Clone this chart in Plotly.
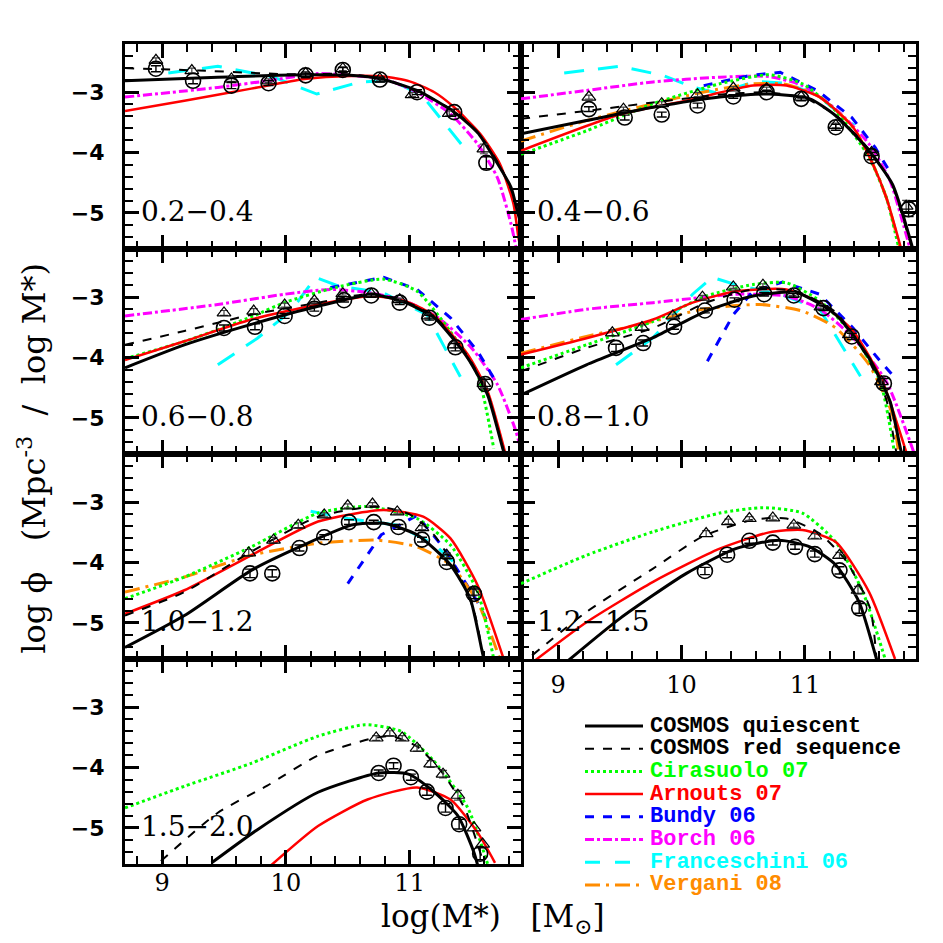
import plotly.graph_objects as go

# ---------------- data ----------------
# 0.2 < z < 0.4
z1_pts_x = [8.95, 9.25, 9.56, 9.86, 10.16, 10.46, 10.76, 11.06, 11.36, 11.62]
z1_pts_y = [-2.61, -2.81, -2.89, -2.85, -2.72, -2.63, -2.79, -3.00, -3.33, -4.17]
z1_pts_e = [0.05, 0.05, 0.05, 0.04, 0.04, 0.04, 0.04, 0.04, 0.05, 0.10]
z1_rs_x = [8.95, 9.24, 9.56, 9.86, 10.16, 10.46, 10.76, 11.02, 11.32, 11.60]
z1_rs_y = [-2.47, -2.64, -2.78, -2.81, -2.69, -2.61, -2.78, -3.04, -3.35, -3.94]
z1_quies_x = [8.7, 9.45, 10.15, 10.52, 10.77, 11.06, 11.36, 11.55, 11.68, 11.82, 11.87, 11.93]
z1_quies_y = [-2.81, -2.75, -2.71, -2.72, -2.78, -2.97, -3.33, -3.67, -4.08, -4.58, -4.97, -5.4]
z1_red_x = [8.7, 9.3, 10.0, 10.5, 10.8, 11.1, 11.4, 11.6, 11.75, 11.9]
z1_red_y = [-2.6, -2.64, -2.7, -2.7, -2.79, -3.02, -3.37, -3.8, -4.3, -5.0]
z1_arn_x = [8.7, 9.18, 9.72, 10.15, 10.53, 10.79, 11.0, 11.2, 11.36, 11.57, 11.73, 11.84, 11.88, 11.92]
z1_arn_y = [-3.31, -3.14, -2.94, -2.78, -2.73, -2.74, -2.82, -3.0, -3.25, -3.69, -4.19, -4.86, -5.42, -5.8]
z1_bor_x = [8.7, 9.45, 9.85, 10.26, 10.52, 10.79, 11.06, 11.33, 11.55, 11.71, 11.82, 11.86]
z1_bor_y = [-3.08, -2.92, -2.81, -2.69, -2.72, -2.78, -3.0, -3.36, -3.86, -4.42, -5.19, -5.58]
z1_fra_x = [9.05, 9.45, 9.9, 10.25, 10.6, 10.85, 11.1, 11.46]
z1_fra_y = [-2.68, -2.57, -2.75, -3.03, -2.83, -2.8, -3.05, -3.97]

# 0.4 < z < 0.6
z2_pts_x = [9.25, 9.54, 9.84, 10.13, 10.42, 10.69, 10.97, 11.25, 11.54, 11.84]
z2_pts_y = [-3.28, -3.42, -3.37, -3.22, -3.07, -3.00, -3.11, -3.58, -4.06, -4.94]
z2_pts_e = [0.04, 0.04, 0.04, 0.04, 0.03, 0.03, 0.03, 0.05, 0.06, 0.12]
z2_rs_x = [9.25, 9.53, 9.84, 10.13, 10.42, 10.69, 10.97, 11.25, 11.54, 11.82]
z2_rs_y = [-3.08, -3.28, -3.19, -3.04, -2.93, -2.94, -3.08, -3.55, -4.00, -4.89]
z2_quies_x = [8.7, 9.23, 9.77, 10.31, 10.71, 11.04, 11.25, 11.52, 11.71, 11.85, 11.9]
z2_quies_y = [-3.69, -3.47, -3.25, -3.08, -3.03, -3.11, -3.39, -3.97, -4.53, -5.42, -5.8]
z2_red_x = [8.7, 9.23, 9.77, 10.31, 10.69, 11.0, 11.25, 11.52, 11.7, 11.84, 11.9]
z2_red_y = [-3.44, -3.31, -3.17, -3.04, -3.0, -3.1, -3.38, -3.95, -4.5, -5.4, -5.8]
z2_ver_x = [8.7, 9.23, 9.77, 10.17, 10.58, 10.85, 11.12, 11.39, 11.55, 11.66, 11.77]
z2_ver_y = [-3.81, -3.47, -3.19, -3.0, -2.86, -2.87, -3.08, -3.58, -4.19, -4.75, -5.58]
z2_arn_x = [8.7, 9.5, 10.04, 10.58, 10.85, 11.12, 11.39, 11.55, 11.66, 11.78]
z2_arn_y = [-3.97, -3.37, -3.14, -2.89, -2.89, -3.08, -3.58, -4.19, -4.75, -5.6]
z2_cir_x = [8.7, 9.23, 9.77, 10.31, 10.71, 10.98, 11.25, 11.52, 11.66, 11.76]
z2_cir_y = [-4.03, -3.64, -3.19, -2.86, -2.71, -2.86, -3.31, -4.08, -4.75, -5.58]
z2_bun_x = [10.18, 10.56, 10.8, 11.1, 11.38, 11.57, 11.7]
z2_bun_y = [-2.89, -2.72, -2.67, -2.97, -3.42, -3.92, -4.36]
z2_bor_x = [8.7, 9.23, 9.77, 10.31, 10.71, 10.98, 11.25, 11.52, 11.69, 11.79, 11.85]
z2_bor_y = [-3.11, -2.97, -2.83, -2.75, -2.74, -2.89, -3.28, -3.86, -4.47, -5.14, -5.58]
z2_fra_x = [9.05, 9.5, 9.85, 10.1, 10.3, 10.6, 10.85, 11.1, 11.4]
z2_fra_y = [-2.68, -2.57, -2.72, -2.92, -3.02, -2.82, -2.85, -3.05, -3.55]

# 0.6 < z < 0.8
z3_pts_x = [9.5, 9.75, 9.99, 10.23, 10.47, 10.69, 10.92, 11.16, 11.37, 11.61]
z3_pts_y = [-3.51, -3.49, -3.31, -3.19, -3.05, -2.97, -3.09, -3.34, -3.83, -4.44]
z3_pts_e = [0.05, 0.05, 0.04, 0.04, 0.03, 0.03, 0.03, 0.04, 0.06, 0.08]
z3_rs_x = [9.5, 9.74, 9.99, 10.23, 10.46, 10.69, 10.92, 11.15, 11.36, 11.6]
z3_rs_y = [-3.26, -3.23, -3.13, -3.06, -2.94, -2.95, -3.04, -3.31, -3.79, -4.43]
z3_quies_x = [8.7, 9.18, 9.72, 10.26, 10.69, 10.93, 11.2, 11.47, 11.63, 11.76, 11.8]
z3_quies_y = [-4.17, -3.79, -3.45, -3.15, -2.96, -3.06, -3.34, -4.01, -4.62, -5.56, -5.8]
z3_red_x = [8.7, 9.18, 9.72, 10.26, 10.69, 10.93, 11.2, 11.47, 11.63, 11.76]
z3_red_y = [-3.79, -3.56, -3.29, -3.09, -2.94, -3.04, -3.32, -3.98, -4.6, -5.56]
z3_arn_x = [8.7, 9.18, 9.72, 10.26, 10.69, 10.96, 11.2, 11.47, 11.63, 11.77, 11.8]
z3_arn_y = [-4.04, -3.73, -3.37, -3.12, -2.98, -3.06, -3.31, -3.95, -4.56, -5.56, -5.8]
z3_cir_x = [8.7, 9.2, 9.5, 9.75, 10.0, 10.4, 10.79, 11.06, 11.33, 11.55, 11.68]
z3_cir_y = [-4.02, -3.72, -3.5, -3.3, -3.08, -2.84, -2.7, -2.9, -3.57, -4.29, -5.51]
z3_bun_x = [10.36, 10.79, 11.06, 11.33, 11.55, 11.68]
z3_bun_y = [-2.84, -2.67, -2.87, -3.34, -3.9, -4.34]
z3_bor_x = [8.7, 9.45, 9.99, 10.36, 10.69, 10.96, 11.23, 11.5, 11.71, 11.86, 11.92]
z3_bor_y = [-3.31, -3.12, -2.95, -2.87, -2.93, -3.06, -3.34, -3.84, -4.45, -5.23, -5.7]
z3_fra_x = [9.45, 9.77, 10.04, 10.24, 10.42, 10.79, 11.14, 11.41]
z3_fra_y = [-4.12, -3.68, -3.23, -2.67, -2.81, -2.93, -3.29, -4.32]

# 0.8 < z < 1.0
z4_pts_x = [9.47, 9.69, 9.94, 10.19, 10.43, 10.67, 10.91, 11.15, 11.38, 11.64]
z4_pts_y = [-3.84, -3.76, -3.49, -3.22, -3.04, -2.95, -2.97, -3.18, -3.65, -4.43]
z4_pts_e = [0.06, 0.05, 0.04, 0.04, 0.03, 0.03, 0.03, 0.04, 0.05, 0.08]
z4_rs_x = [9.44, 9.68, 9.93, 10.17, 10.42, 10.66, 10.9, 11.13, 11.36, 11.62]
z4_rs_y = [-3.59, -3.5, -3.31, -3.0, -2.83, -2.8, -2.95, -3.16, -3.62, -4.4]
z4_quies_x = [8.7, 9.23, 9.77, 10.2, 10.58, 10.93, 11.25, 11.52, 11.69, 11.78, 11.82]
z4_quies_y = [-4.62, -4.12, -3.67, -3.23, -2.98, -2.92, -3.29, -4.01, -4.73, -5.56, -5.8]
z4_red_x = [8.7, 9.23, 9.77, 10.2, 10.58, 10.93, 11.25, 11.5, 11.66, 11.74, 11.78]
z4_red_y = [-4.23, -3.84, -3.51, -3.09, -2.87, -2.9, -3.25, -3.98, -4.7, -5.56, -5.8]
z4_arn_x = [8.7, 9.23, 9.77, 10.09, 10.44, 10.85, 11.12, 11.39, 11.63, 11.82, 11.86]
z4_arn_y = [-3.95, -3.68, -3.37, -3.09, -2.9, -2.87, -3.09, -3.56, -4.4, -5.56, -5.8]
z4_ver_x = [8.7, 9.23, 9.77, 10.17, 10.63, 10.98, 11.25, 11.52, 11.71, 11.76, 11.8]
z4_ver_y = [-3.93, -3.65, -3.4, -3.2, -3.12, -3.23, -3.51, -4.12, -4.95, -5.56, -5.8]
z4_cir_x = [8.7, 9.23, 9.77, 10.2, 10.58, 10.85, 11.12, 11.39, 11.61, 11.72]
z4_cir_y = [-4.17, -3.79, -3.4, -2.98, -2.79, -2.76, -3.06, -3.62, -4.4, -5.51]
z4_bun_x = [10.21, 10.42, 10.58, 10.82, 11.12, 11.39, 11.61, 11.71]
z4_bun_y = [-4.06, -3.29, -2.9, -2.75, -2.95, -3.51, -4.06, -4.29]
z4_bor_x = [8.7, 9.23, 9.77, 10.09, 10.44, 10.85, 11.12, 11.39, 11.66, 11.88]
z4_bor_y = [-3.37, -3.2, -3.09, -3.02, -2.95, -2.98, -3.2, -3.67, -4.4, -5.56]
z4_fra_x = [9.47, 9.77, 10.09, 10.25, 10.47, 10.8, 11.12, 11.45]
z4_fra_y = [-4.12, -3.67, -2.95, -2.67, -2.81, -2.95, -3.2, -4.31]

# 1.0 < z < 1.2
z5_pts_x = [9.71, 9.89, 10.11, 10.31, 10.51, 10.71, 10.91, 11.1, 11.3, 11.52]
z5_pts_y = [-4.18, -4.18, -3.76, -3.58, -3.33, -3.33, -3.41, -3.62, -3.99, -4.52]
z5_pts_e = [0.07, 0.06, 0.05, 0.04, 0.04, 0.03, 0.04, 0.04, 0.05, 0.08]
z5_rs_x = [9.7, 9.9, 10.1, 10.31, 10.5, 10.7, 10.9, 11.1, 11.3, 11.51]
z5_rs_y = [-3.84, -3.63, -3.38, -3.21, -3.06, -3.03, -3.16, -3.42, -3.88, -4.49]
z5_quies_x = [8.7, 9.18, 9.72, 10.11, 10.53, 10.79, 11.06, 11.33, 11.49, 11.6, 11.65]
z5_quies_y = [-5.41, -4.88, -4.13, -3.74, -3.38, -3.35, -3.54, -4.04, -4.6, -5.6, -5.9]
z5_red_x = [8.7, 9.18, 9.72, 10.26, 10.74, 11.0, 11.2, 11.4, 11.52, 11.6]
z5_red_y = [-4.88, -4.49, -3.82, -3.24, -3.07, -3.2, -3.55, -4.2, -4.8, -5.6]
z5_arn_x = [8.7, 9.18, 9.72, 10.26, 10.79, 11.11, 11.33, 11.55, 11.76]
z5_arn_y = [-4.85, -4.46, -3.88, -3.32, -3.13, -3.24, -3.6, -4.38, -5.6]
z5_ver_x = [8.7, 9.18, 9.72, 10.26, 10.74, 11.06, 11.33, 11.55, 11.73]
z5_ver_y = [-4.49, -4.24, -3.88, -3.68, -3.63, -3.74, -4.04, -4.66, -5.6]
z5_cir_x = [8.7, 9.18, 9.72, 10.26, 10.66, 11.06, 11.33, 11.55, 11.68]
z5_cir_y = [-4.6, -4.24, -3.74, -3.18, -3.07, -3.27, -3.71, -4.49, -5.6]
z5_bun_x = [10.5, 10.77, 11.06, 11.28, 11.55, 11.63]
z5_bun_y = [-4.35, -3.54, -3.22, -3.77, -4.66, -4.99]
z5_fra_x = [10.2, 10.5, 10.9, 11.2, 11.35]
z5_fra_y = [-3.15, -3.27, -3.38, -3.7, -3.98]

# 1.2 < z < 1.5
z6_pts_x = [10.19, 10.37, 10.55, 10.74, 10.92, 11.08, 11.28, 11.44]
z6_pts_y = [-4.14, -3.87, -3.64, -3.67, -3.74, -3.86, -4.13, -4.76]
z6_pts_e = [0.06, 0.05, 0.04, 0.04, 0.04, 0.05, 0.06, 0.08]
z6_rs_x = [10.2, 10.38, 10.55, 10.74, 10.91, 11.08, 11.28, 11.43]
z6_rs_y = [-3.52, -3.32, -3.27, -3.26, -3.38, -3.56, -3.88, -4.46]
z6_quies_x = [9.08, 9.5, 10.04, 10.44, 10.79, 11.04, 11.25, 11.44, 11.58, 11.62]
z6_quies_y = [-5.63, -4.93, -4.18, -3.77, -3.63, -3.74, -4.04, -4.66, -5.6, -5.9]
z6_red_x = [8.79, 9.23, 9.77, 10.17, 10.58, 10.85, 11.12, 11.34, 11.53, 11.58]
z6_red_y = [-5.54, -4.82, -4.1, -3.57, -3.29, -3.27, -3.52, -3.99, -4.77, -5.6]
z6_arn_x = [8.81, 9.23, 9.77, 10.31, 10.71, 10.98, 11.25, 11.52, 11.73]
z6_arn_y = [-5.63, -4.99, -4.32, -3.77, -3.5, -3.46, -3.66, -4.49, -5.6]
z6_cir_x = [8.7, 9.23, 9.77, 10.31, 10.66, 10.98, 11.25, 11.47, 11.65]
z6_cir_y = [-4.35, -3.88, -3.49, -3.18, -3.09, -3.18, -3.66, -4.49, -5.6]

# 1.5 < z < 2.0
z7_pts_x = [10.75, 10.87, 11.01, 11.14, 11.29, 11.4, 11.57]
z7_pts_y = [-4.09, -3.97, -4.16, -4.4, -4.67, -4.94, -5.43]
z7_pts_e = [0.05, 0.05, 0.05, 0.06, 0.07, 0.08, 0.1]
z7_rs_x = [10.73, 10.84, 10.94, 11.06, 11.17, 11.27, 11.39, 11.52, 11.59]
z7_rs_y = [-3.51, -3.43, -3.51, -3.68, -3.94, -4.11, -4.46, -5.0, -5.27]
z7_quies_x = [9.4, 9.77, 10.26, 10.75, 10.99, 11.2, 11.39, 11.52, 11.56]
z7_quies_y = [-5.58, -5.03, -4.41, -4.09, -4.11, -4.41, -4.8, -5.41, -5.7]
z7_red_x = [8.99, 9.45, 9.85, 10.26, 10.69, 10.85, 11.06, 11.27, 11.45, 11.6]
z7_red_y = [-5.55, -4.75, -4.3, -3.8, -3.52, -3.48, -3.65, -4.1, -4.7, -5.6]
z7_arn_x = [9.87, 10.26, 10.66, 11.06, 11.33, 11.55, 11.69]
z7_arn_y = [-5.64, -4.97, -4.53, -4.33, -4.53, -5.08, -5.58]
z7_cir_x = [8.7, 9.18, 9.72, 10.26, 10.64, 10.93, 11.2, 11.47, 11.65]
z7_cir_y = [-4.67, -4.31, -3.93, -3.48, -3.29, -3.4, -3.9, -4.67, -5.73]

z_labels = ["0.2\u22120.4", "0.4\u22120.6", "0.6\u22120.8", "0.8\u22121.0",
            "1.0\u22121.2", "1.2\u22121.5", "1.5\u22122.0"]

# ---------------- styles ----------------
STY = {
    "quies": ("COSMOS quiescent", "black", "solid", 3),
    "red": ("COSMOS red sequence", "black", "dash", 2),
    "cir": ("Cirasuolo 07", "#00ff00", "dot", 3),
    "arn": ("Arnouts 07", "#ff0000", "solid", 2.5),
    "bun": ("Bundy 06", "#0000ff", "dash", 3),
    "bor": ("Borch 06", "#ff00ff", "dashdot", 3),
    "fra": ("Franceschini 06", "#00ffff", "20px,14px", 3),
    "ver": ("Vergani 08", "#ff8c00", "longdashdot", 3),
}
LEGEND_ORDER = ["quies", "red", "cir", "arn", "bun", "bor", "fra", "ver"]
DRAW_ORDER = ["fra", "bor", "bun", "ver", "cir", "arn", "red", "quies"]
LINEAR = ("fra", "bun")

panels = [
    dict(pts=(z1_pts_x, z1_pts_y, z1_pts_e), rs=(z1_rs_x, z1_rs_y),
         curves={"quies": (z1_quies_x, z1_quies_y), "red": (z1_red_x, z1_red_y),
                 "arn": (z1_arn_x, z1_arn_y), "bor": (z1_bor_x, z1_bor_y),
                 "fra": (z1_fra_x, z1_fra_y)}),
    dict(pts=(z2_pts_x, z2_pts_y, z2_pts_e), rs=(z2_rs_x, z2_rs_y),
         curves={"quies": (z2_quies_x, z2_quies_y), "red": (z2_red_x, z2_red_y),
                 "ver": (z2_ver_x, z2_ver_y), "arn": (z2_arn_x, z2_arn_y),
                 "cir": (z2_cir_x, z2_cir_y), "bun": (z2_bun_x, z2_bun_y),
                 "bor": (z2_bor_x, z2_bor_y), "fra": (z2_fra_x, z2_fra_y)}),
    dict(pts=(z3_pts_x, z3_pts_y, z3_pts_e), rs=(z3_rs_x, z3_rs_y),
         curves={"quies": (z3_quies_x, z3_quies_y), "red": (z3_red_x, z3_red_y),
                 "arn": (z3_arn_x, z3_arn_y), "cir": (z3_cir_x, z3_cir_y),
                 "bun": (z3_bun_x, z3_bun_y), "bor": (z3_bor_x, z3_bor_y),
                 "fra": (z3_fra_x, z3_fra_y)}),
    dict(pts=(z4_pts_x, z4_pts_y, z4_pts_e), rs=(z4_rs_x, z4_rs_y),
         curves={"quies": (z4_quies_x, z4_quies_y), "red": (z4_red_x, z4_red_y),
                 "arn": (z4_arn_x, z4_arn_y), "ver": (z4_ver_x, z4_ver_y),
                 "cir": (z4_cir_x, z4_cir_y), "bun": (z4_bun_x, z4_bun_y),
                 "bor": (z4_bor_x, z4_bor_y), "fra": (z4_fra_x, z4_fra_y)}),
    dict(pts=(z5_pts_x, z5_pts_y, z5_pts_e), rs=(z5_rs_x, z5_rs_y),
         curves={"quies": (z5_quies_x, z5_quies_y), "red": (z5_red_x, z5_red_y),
                 "arn": (z5_arn_x, z5_arn_y), "ver": (z5_ver_x, z5_ver_y),
                 "cir": (z5_cir_x, z5_cir_y), "bun": (z5_bun_x, z5_bun_y),
                 "fra": (z5_fra_x, z5_fra_y)}),
    dict(pts=(z6_pts_x, z6_pts_y, z6_pts_e), rs=(z6_rs_x, z6_rs_y),
         curves={"quies": (z6_quies_x, z6_quies_y), "red": (z6_red_x, z6_red_y),
                 "arn": (z6_arn_x, z6_arn_y), "cir": (z6_cir_x, z6_cir_y)}),
    dict(pts=(z7_pts_x, z7_pts_y, z7_pts_e), rs=(z7_rs_x, z7_rs_y),
         curves={"quies": (z7_quies_x, z7_quies_y), "red": (z7_red_x, z7_red_y),
                 "arn": (z7_arn_x, z7_arn_y), "cir": (z7_cir_x, z7_cir_y)}),
]

# grid position (row, col) of each panel
cells = [(0, 0), (0, 1), (1, 0), (1, 1), (2, 0), (2, 1), (3, 0)]
PLOT_W, PLOT_H, ML, MT = 791, 820, 117, 36
XSPLIT = 396 / PLOT_W

fig = go.Figure()

for i, p in enumerate(panels):
    n = "" if i == 0 else str(i + 1)
    xa, ya = "x" + n, "y" + n
    for key in DRAW_ORDER:
        if key not in p["curves"]:
            continue
        cx, cy = p["curves"][key]
        name, col, dash, w = STY[key]
        fig.add_trace(go.Scatter(
            x=cx, y=cy, mode="lines", xaxis=xa, yaxis=ya, name=name,
            line=dict(color=col, dash=dash, width=w,
                      shape="linear" if key in LINEAR else "spline", smoothing=0.6),
            showlegend=False, hoverinfo="skip"))
    # COSMOS red sequence points (triangles)
    rx, ry = p["rs"]
    fig.add_trace(go.Scatter(
        x=rx, y=ry, mode="markers", xaxis=xa, yaxis=ya, showlegend=False,
        marker=dict(symbol="triangle-up-open", size=12, color="black",
                    line=dict(width=1.2, color="#333333")),
        error_y=dict(type="data", array=[e * 0.8 for e in p["pts"][2]],
                     color="#444444", thickness=1.2, width=4)))
    # COSMOS quiescent points (circles)
    px_, py_, pe_ = p["pts"]
    fig.add_trace(go.Scatter(
        x=px_, y=py_, mode="markers", xaxis=xa, yaxis=ya, showlegend=False,
        marker=dict(symbol="circle-open", size=15, color="black",
                    line=dict(width=1.6, color="black")),
        error_y=dict(type="data", array=pe_, color="black", thickness=1.4, width=5)))

    fig.add_annotation(x=8.81, y=-4.97, xref=xa, yref=ya, text=z_labels[i],
                       showarrow=False, xanchor="left", yanchor="middle",
                       font=dict(family="DejaVu Serif", size=28, color="black"))

layout = {}
for i, (r, c) in enumerate(cells):
    n = "" if i == 0 else str(i + 1)
    xdom = [0, XSPLIT] if c == 0 else [XSPLIT, 1]
    ydom = [1 - (r + 1) * 0.25, 1 - r * 0.25]
    common = dict(showgrid=False, zeroline=False, showline=True, linecolor="black",
                  linewidth=3, mirror="allticks", ticks="inside", ticklen=14,
                  tickwidth=2.5, tickcolor="black", tickmode="linear", tick0=0, dtick=1,
                  minor=dict(ticks="inside", ticklen=8, tickwidth=2,
                             tickcolor="black", tickmode="linear", tick0=0, dtick=0.2,
                             showgrid=False))
    layout["xaxis" + n] = dict(
        common, domain=xdom, range=[8.7, 11.9], anchor="y" + n,
        showticklabels=(i in (5, 6)), ticklabelstandoff=(-5 if i == 6 else 2),
        tickfont=dict(family="DejaVu Serif", size=24, color="black"))
    layout["yaxis" + n] = dict(
        common, domain=ydom, range=[-5.6, -2.2], anchor="x" + n,
        showticklabels=(c == 0), ticklabelstandoff=13,
        tickfont=dict(family="DejaVu Sans", size=22, color="black", weight="bold"))

fig.update_layout(**layout)

# axis titles
fig.add_annotation(x=0.465, y=-0.066, xref="paper", yref="paper",
                   xanchor="center", yanchor="middle",
                   text="log(M*)   [M<sub>\u2299</sub>]", showarrow=False,
                   font=dict(family="DejaVu Serif", size=31, color="black"))
fig.add_annotation(x=-0.118, y=0.495, xref="paper", yref="paper", textangle=-90,
                   xanchor="center", yanchor="middle",
                   text="log \u03d5   (Mpc<sup>-3</sup>  /  log M*)", showarrow=False,
                   font=dict(family="DejaVu Serif", size=32, color="black"))


# legend drawn in the empty lower-right cell
def px2paper(x, y):
    return (x - ML) / PLOT_W, 1 - (y - MT) / PLOT_H


for k, key in enumerate(LEGEND_ORDER):
    name, col, dash, w = STY[key]
    yrow = 718 + 22.7 * k
    x0, y0 = px2paper(577, yrow)
    x1, _ = px2paper(635, yrow)
    xt, _ = px2paper(640, yrow)
    fig.add_shape(type="line", xref="paper", yref="paper", x0=x0, x1=x1, y0=y0, y1=y0,
                  line=dict(color=col, dash=dash if key != "fra" else "longdash",
                            width=w))
    fig.add_annotation(x=xt, y=y0, xref="paper", yref="paper", text=name,
                       showarrow=False, xanchor="left", yanchor="middle",
                       font=dict(family="Liberation Mono", size=22, color=col,
                                 weight="bold"))

fig.update_layout(
    width=943, height=943,
    margin=dict(l=ML, r=943 - ML - PLOT_W, t=MT, b=943 - MT - PLOT_H),
    paper_bgcolor="white", plot_bgcolor="white",
    showlegend=False,
)

fig.write_html("out.html")
